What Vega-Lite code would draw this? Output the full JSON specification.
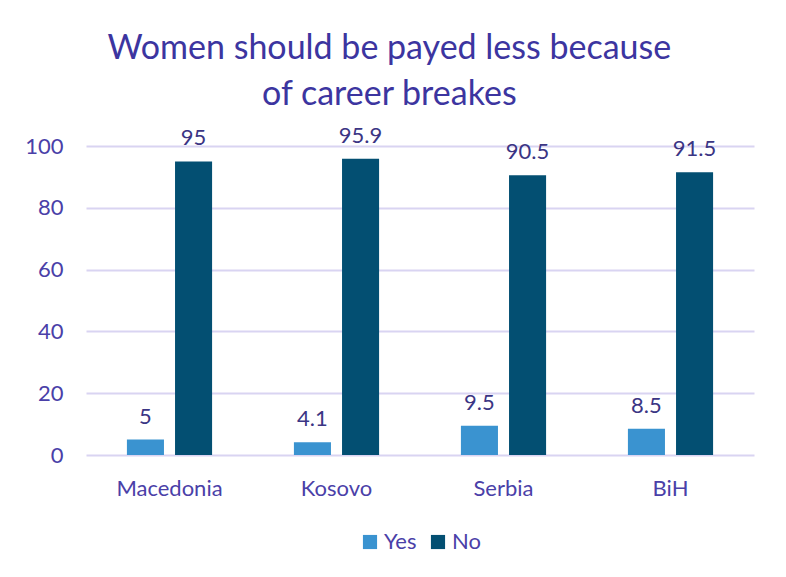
{
  "$schema": "https://vega.github.io/schema/vega-lite/v6.json",
  "width": 668,
  "height": 309,
  "padding": {"left": 24, "top": 31, "right": 30, "bottom": 10},
  "background": "white",
  "title": {
    "text": ["Women should be payed less because", "of career breakes"],
    "fontSize": 34,
    "font": "Lato",
    "fontWeight": "normal",
    "color": "#3c35a0",
    "anchor": "middle",
    "frame": "bounds",
    "lineHeight": 46,
    "offset": 13
  },
  "data": {
    "values": [
      {"country": "Macedonia", "answer": "Yes", "value": 5},
      {"country": "Macedonia", "answer": "No", "value": 95},
      {"country": "Kosovo", "answer": "Yes", "value": 4.1},
      {"country": "Kosovo", "answer": "No", "value": 95.9},
      {"country": "Serbia", "answer": "Yes", "value": 9.5},
      {"country": "Serbia", "answer": "No", "value": 90.5},
      {"country": "BiH", "answer": "Yes", "value": 8.5},
      {"country": "BiH", "answer": "No", "value": 91.5}
    ]
  },
  "encoding": {
    "x": {
      "field": "country",
      "type": "nominal",
      "sort": ["Macedonia", "Kosovo", "Serbia", "BiH"],
      "scale": {"paddingInner": 0.49, "paddingOuter": 0.245},
      "axis": {
        "title": null,
        "labelAngle": 0,
        "domain": false,
        "ticks": false,
        "labelFontSize": 22,
        "labelFont": "Lato",
        "labelColor": "#4a40a8",
        "labelPadding": 23
      }
    },
    "xOffset": {
      "field": "answer",
      "type": "nominal",
      "sort": ["Yes", "No"],
      "scale": {"paddingInner": 0.23}
    },
    "y": {
      "field": "value",
      "type": "quantitative",
      "scale": {"domain": [0, 100]},
      "axis": {
        "title": null,
        "values": [0, 20, 40, 60, 80, 100],
        "domain": false,
        "ticks": false,
        "gridColor": "#d9d4f2",
        "gridWidth": 2,
        "labelPadding": 23,
        "labelFontSize": 22,
        "labelFont": "Lato",
        "labelColor": "#4a40a8"
      }
    }
  },
  "layer": [
    {
      "mark": {"type": "bar"},
      "encoding": {
        "color": {
          "field": "answer",
          "type": "nominal",
          "sort": ["Yes", "No"],
          "scale": {"domain": ["Yes", "No"], "range": ["#3a93d0", "#034f72"]},
          "legend": {
            "orient": "bottom",
            "direction": "horizontal",
            "title": null,
            "symbolType": "square",
            "symbolSize": 200,
            "symbolStrokeWidth": 0,
            "labelFontSize": 22,
            "labelFont": "Lato",
            "labelColor": "#4a40a8",
            "labelOffset": 3,
            "columnPadding": 10,
            "offset": 32
          }
        }
      }
    },
    {
      "mark": {
        "type": "text",
        "baseline": "alphabetic",
        "dy": -16,
        "fontSize": 22,
        "font": "Lato",
        "color": "#3b3584"
      },
      "encoding": {
        "text": {"field": "value", "type": "quantitative"}
      }
    }
  ],
  "config": {
    "view": {"stroke": null},
    "legend": {"layout": {"bottom": {"anchor": "middle"}}}
  }
}
